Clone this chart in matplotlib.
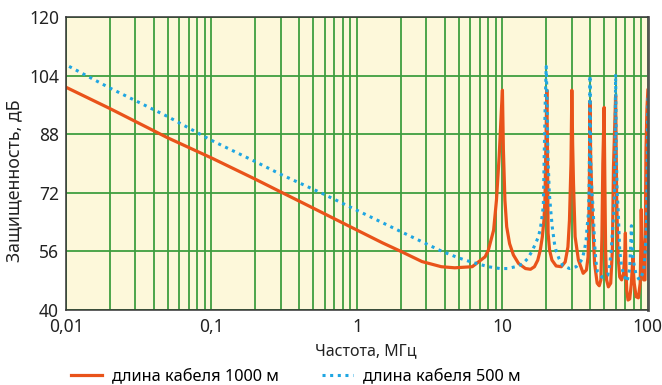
import numpy as np
import matplotlib
matplotlib.use("Agg")
from matplotlib import pyplot as plt
from matplotlib.ticker import FixedLocator, FixedFormatter, LogLocator, NullFormatter

plt.rcParams['font.family'] = ['Noto Sans', 'DejaVu Sans']

# cable 1000 m (orange, solid)
freq_1000 = [0.01, 0.02, 0.05, 0.1, 0.2, 0.3, 0.5, 1, 1.5, 2, 2.8, 3.8, 4.7, 6.2,
             7.6, 8.0, 8.7, 9.1, 9.5, 9.85, 10, 10.15, 10.4, 10.7, 11.2, 11.9, 12.9, 14.4,
             15.6, 16.6, 17.5, 18.2, 18.8, 19.3, 19.6, 19.9, 20.2, 20.4, 20.6, 21.1, 21.9,
             23.4, 25.4, 27, 28.2, 28.9, 29.6, 30, 30.4, 30.8, 31.6, 33.3, 35.9, 37.8, 38.8,
             39.5, 39.8, 40, 40.4, 41.6, 43, 44.8, 46.3, 47.5, 48.3, 49, 50, 50.6, 51.2, 52,
             53.5, 55.5, 57, 58, 60, 61, 62.4, 64, 66, 68, 69.3, 70, 70.6, 71.5, 73, 75, 77,
             78.2, 79, 79.7, 80.5, 83, 86, 88.5, 89.5, 90, 90.7, 92, 93.5, 95.5, 97, 98.5, 100]
db_1000 = [100.8, 95, 87, 81.5, 75.7, 72.2, 67.8, 61.8, 58.3, 56, 53.2, 51.8, 51.5, 51.8,
           54.5, 56.3, 61.8, 70, 82, 95, 100, 84, 70, 62.7, 58.1, 55, 52.7, 51.3,
           51.1, 51.8, 53.6, 56.3, 59.9, 64.5, 70, 85, 100, 84, 61, 56.3, 53.6,
           52, 51.8, 53.1, 57.2, 64.5, 80, 100, 85, 74.5, 60, 53.6, 50, 50.9, 54.5,
           70, 85, 97, 82, 65, 52.7, 47.3, 46.6, 48.2, 60, 80, 95.3, 75, 56.3, 48.2,
           46.3, 47.3, 56.3, 79, 98.5, 70, 54.5, 49, 48.2, 50, 55, 61, 52, 45.4, 42.7, 43, 47.3,
           52, 54.5, 50, 47.3, 43.6, 43.3, 47.3, 58, 67.4, 60, 56.3, 48.2, 48.2, 83.5, 95, 100]

# cable 500 m (blue, dotted)
freq_500 = [0.0105, 0.02, 0.05, 0.1, 0.2, 0.3, 0.564, 1, 2, 3.84, 5, 6.2, 8, 9.6, 10.8, 12.3,
            13.7, 14.9, 15.9, 16.8, 17.6, 18.2, 18.8, 19.1, 19.4, 19.7, 20, 20.3, 20.5, 21,
            21.5, 22, 22.8, 23.4, 24.5, 25.9, 28.9, 32.2, 35.3, 36.6, 37.6, 38.2, 39, 39.5,
            40, 40.5, 41.2, 42, 43, 44, 45, 48.5, 53, 54.5, 56, 57, 58, 58.7, 59.4, 60, 60.7,
            61.5, 62.5, 64, 65.7, 68.2, 72, 75, 75.9, 77, 78, 79.3, 82.7, 87.2, 93.4, 96, 98, 100]
db_500 = [106.5, 100.6, 92.8, 86.3, 80.5, 77, 72, 67.2, 61.4, 56, 54.2, 53, 51.8, 51.3, 51.3, 51.8,
          52.5, 54, 55.9, 57.9, 59.8, 62, 66, 68.3, 83.5, 97, 106.5, 97, 83.5, 72,
          67, 62.7, 58.1, 56.1, 54, 52.2, 51.3, 51.8, 53.8, 56.3, 59, 62.7, 66.3, 75,
          104, 80, 72, 68.1, 58.1, 53.1, 50.4, 48.9, 49.5, 52, 56.3, 60.9, 65.4, 69, 82,
          104.4, 82, 72, 67.2, 56.3, 52.2, 49.5, 47.7, 51.3, 56.3, 63, 58.1, 53.6, 49.9, 48.2,
          50.4, 56.3, 65.4, 98]

x_ticks = [0.01, 0.1, 1, 10, 100]
x_labels = ['0,01', '0,1', '1', '10', '100']
y_ticks = [40, 56, 72, 88, 104, 120]

fig = plt.figure(figsize=(6.62, 3.85), dpi=100)
ax = fig.add_axes([0.0997, 0.195, 0.879, 0.761])
ax.set_facecolor('#fdf8da')

grid_col = '#3f9f3f'
ax.set_xscale('log')
ax.set_xlim(0.01, 100)
ax.set_ylim(40, 120)
ax.xaxis.set_major_locator(FixedLocator(x_ticks))
ax.xaxis.set_major_formatter(FixedFormatter(x_labels))
ax.xaxis.set_minor_locator(LogLocator(base=10, subs=np.arange(2, 10)))
ax.xaxis.set_minor_formatter(NullFormatter())
ax.set_yticks(y_ticks)
ax.grid(True, which='both', axis='x', color=grid_col, lw=1.3)
ax.grid(True, which='major', axis='y', color=grid_col, lw=1.3)
ax.set_axisbelow(True)
ax.tick_params(which='both', length=0, labelsize=12.5, colors='#222222')
ax.tick_params(axis='x', pad=6)
ax.tick_params(axis='y', pad=5)

for side in ['left', 'bottom', 'top']:
    ax.spines[side].set_color('#333333')
    ax.spines[side].set_linewidth(1.1)
ax.spines['right'].set_color('#555555')
ax.spines['right'].set_linewidth(2)

l1, = ax.plot(freq_1000, db_1000, color='#e9531a', lw=2.3, solid_joinstyle='round',
              label='длина кабеля 1000 м')
l2, = ax.plot(freq_500, db_500, color='#1fa6e2', lw=2.2, linestyle=(0, (1, 1.5)),
              label='длина кабеля 500 м')

ax.set_xlabel('Частота, МГц', fontsize=11.5, color='#222222')
ax.set_ylabel('Защищенность, дБ', fontsize=12.8, color='#222222')
ax.xaxis.set_label_coords(0.515, -0.115)
ax.yaxis.set_label_coords(-0.074, 0.44)

fig.legend(handles=[l1, l2], loc='center left', bbox_to_anchor=(0.095, 0.022), ncol=2,
           frameon=False, fontsize=11.8, handlelength=1.9, handletextpad=0.6,
           columnspacing=2.6, borderpad=0)

plt.savefig('out.png', dpi=100)
plt.close(fig)
